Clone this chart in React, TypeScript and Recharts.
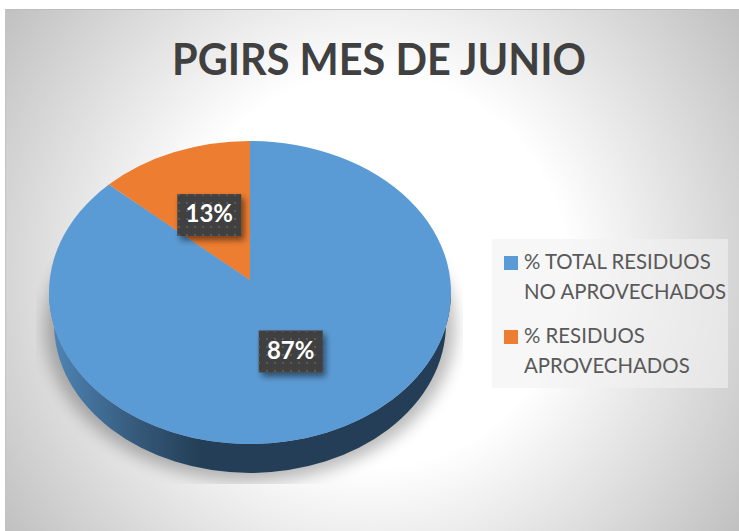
import React from "react";
import { PieChart, Pie, Cell, Legend } from "recharts";

const categories = ["% TOTAL RESIDUOS NO APROVECHADOS", "% RESIDUOS APROVECHADOS"];
const values = [87, 13];
const colors = ["#5b9bd5", "#ed7d31"];
const legendLines = [
  ["% TOTAL RESIDUOS", "NO APROVECHADOS"],
  ["% RESIDUOS", "APROVECHADOS"],
];

const tableData = categories.map((name, i) => ({ name, value: values[i] }));

const FONT = "Lato, Carlito, sans-serif";
const RAD = Math.PI / 180;
// the disc is drawn in perspective: flattened, with its apex above the ellipse centre
const SQUASH = 151.5 / 201;
const APEX_SHIFT = -12.5;
const RAY_K = 0.72;
const DEPTH = 29;

function rimPoint(cx: number, cy: number, r: number, angle: number) {
  const ry = r * SQUASH;
  const dx = Math.cos(angle * RAD);
  const dy = -Math.sin(angle * RAD) * RAY_K;
  const a = (dx * dx) / (r * r) + (dy * dy) / (ry * ry);
  const b = (2 * APEX_SHIFT * dy) / (ry * ry);
  const c = (APEX_SHIFT * APEX_SHIFT) / (ry * ry) - 1;
  const t = (-b + Math.sqrt(b * b - 4 * a * c)) / (2 * a);
  return { x: cx + t * dx, y: cy + APEX_SHIFT + t * dy };
}

const TopSlice = (props: any) => {
  const { cx, cy, outerRadius, startAngle, endAngle, fill } = props;
  const ry = outerRadius * SQUASH;
  const p0 = rimPoint(cx, cy, outerRadius, startAngle);
  const p1 = rimPoint(cx, cy, outerRadius, endAngle);
  const large = Math.abs(endAngle - startAngle) > 180 ? 1 : 0;
  const d = `M${cx},${cy + APEX_SHIFT} L${p0.x},${p0.y} A${outerRadius},${ry} 0 ${large} 1 ${p1.x},${p1.y} Z`;
  return <path d={d} fill={fill} />;
};

// side wall + soft shadow, only the front slice shows it
const WallSlice = (props: any) => {
  const { cx, cy, outerRadius, index } = props;
  if (index !== 0) return <g />;
  const r = outerRadius;
  const ry = r * SQUASH;
  const lowR = r - 5;
  const lowRy = ry - 2;
  const lowY = cy + DEPTH + 2;
  const d = `M${cx - r},${cy} L${cx - lowR},${lowY} A${lowR},${lowRy} 0 0 0 ${cx + lowR},${lowY} L${cx + r},${cy} A${r},${ry} 0 0 1 ${cx - r},${cy} Z`;
  return (
    <g>
      <g clipPath="url(#shadowClip)">
        <ellipse cx={cx} cy={cy + DEPTH + 6} rx={r + 4} ry={ry + 2} fill="#000" opacity={0.27} filter="url(#softBlur)" />
      </g>
      <path d={d} fill="url(#wallGrad)" />
    </g>
  );
};

const BoxLabel = (props: any) => {
  const { cx, cy, outerRadius, midAngle, value } = props;
  const ax = Math.cos(midAngle * RAD);
  const ay = -Math.sin(midAngle * RAD);
  const x = cx + ax * outerRadius * 0.51;
  const y = cy + APEX_SHIFT + ay * outerRadius * 0.51 * (ay < 0 ? 0.69 : 0.76);
  return (
    <g>
      <rect x={x - 32} y={y - 21} width={64} height={42} fill="#404040" filter="url(#boxShadow)" />
      <rect x={x - 32} y={y - 21} width={64} height={42} fill="url(#boxDots)" />
      <text x={x} y={y + 1} textAnchor="middle" dominantBaseline="middle" fill="#fff" fontFamily={FONT} fontWeight={700} fontSize={24}>
        {value}%
      </text>
    </g>
  );
};

const LegendBox = () => (
  <div style={{ width: 236, height: 149, background: "rgba(242,242,242,0.6)", fontFamily: FONT, fontSize: 20.4, color: "#595959", position: "relative" }}>
    {categories.map((name, i) => (
      <div key={name} style={{ position: "absolute", left: 12, top: 8 + i * 74, display: "flex" }}>
        <span style={{ width: 14, height: 14, marginTop: 9, marginRight: 6, background: colors[i] }} />
        <span style={{ lineHeight: "29.5px", whiteSpace: "nowrap" }}>
          {legendLines[i].map((t) => (
            <div key={t}>{t}</div>
          ))}
        </span>
      </div>
    ))}
  </div>
);

export default function App() {
  return (
    <div style={{ position: "absolute", left: 0, top: 0, width: 739, height: 531, background: "#fff", overflow: "hidden" }}>
      <div
        style={{
          position: "absolute",
          left: 5,
          top: 9,
          width: 734,
          height: 522,
          boxSizing: "border-box",
          borderTop: "1px solid #bdbdbd",
          borderLeft: "1px solid #c4c4c4",
          background: "radial-gradient(circle 455px at 365px 261px, #ffffff 0%, #ffffff 43%, #bfbfbf 100%)",
        }}
      />
      <div style={{ position: "absolute", left: 0, top: 0 }}>
        <PieChart width={739} height={531} margin={{ top: 0, right: 0, bottom: 0, left: 0 }}>
          <defs>
            <linearGradient id="wallGrad" gradientUnits="userSpaceOnUse" x1="49" y1="0" x2="451" y2="0">
              <stop offset="0%" stopColor="#4f86b8" />
              <stop offset="22%" stopColor="#35597a" />
              <stop offset="38%" stopColor="#233e56" />
              <stop offset="100%" stopColor="#233e56" />
            </linearGradient>
            <filter id="softBlur" x="-20%" y="-20%" width="140%" height="140%">
              <feGaussianBlur stdDeviation="8" />
            </filter>
            <filter id="boxShadow" x="-30%" y="-30%" width="170%" height="170%">
              <feDropShadow dx="3" dy="4" stdDeviation="3" floodColor="#000" floodOpacity="0.5" />
            </filter>
            <pattern id="boxDots" width="8" height="8" patternUnits="userSpaceOnUse">
              <rect x="2" y="2" width="2" height="2" fill="#5a5a5a" />
            </pattern>
            <clipPath id="shadowClip">
              <rect x="36" y="120" width="427" height="364" />
            </clipPath>
          </defs>
          <text x={379} y={75} textAnchor="middle" fontFamily={FONT} fontWeight={700} fontSize={43} fill="#404040" textLength={414} lengthAdjust="spacingAndGlyphs">
            PGIRS MES DE JUNIO
          </text>
          <Pie
            data={tableData}
            dataKey="value"
            nameKey="name"
            cx={250}
            cy={292.5}
            outerRadius={201}
            startAngle={90}
            endAngle={-270}
            stroke="none"
            legendType="none"
            shape={WallSlice}
            isAnimationActive={false}
          />
          <Pie
            data={tableData}
            dataKey="value"
            nameKey="name"
            cx={250}
            cy={292.5}
            outerRadius={201}
            startAngle={90}
            endAngle={-270}
            stroke="none"
            shape={TopSlice}
            label={BoxLabel}
            labelLine={false}
            isAnimationActive={false}
          >
            {tableData.map((d, i) => (
              <Cell key={d.name} fill={colors[i]} />
            ))}
          </Pie>
          <Legend
            layout="vertical"
            align="right"
            verticalAlign="top"
            content={LegendBox}
            wrapperStyle={{ left: 492, top: 239, width: 236, height: 149 }}
          />
        </PieChart>
      </div>
    </div>
  );
}
